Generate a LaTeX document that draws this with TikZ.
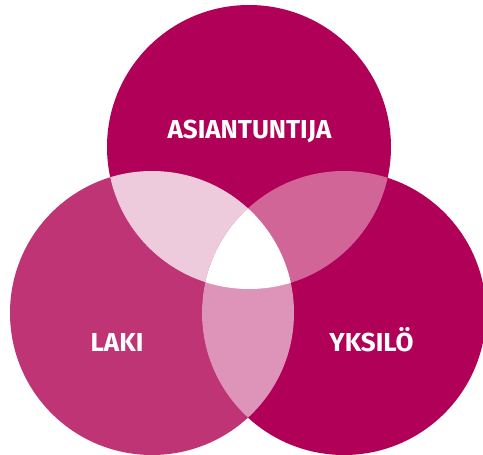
\documentclass[tikz,border=0pt]{standalone}
\usepackage{fontspec}
\setmainfont{Fira Sans}
\definecolor{cTop}{HTML}{B00057}
\definecolor{cLeft}{HTML}{BF3475}
\definecolor{cRight}{HTML}{B00057}
\definecolor{cLT}{HTML}{EECADD}
\definecolor{cTR}{HTML}{D16597}
\definecolor{cLR}{HTML}{DE94B9}
\tikzset{
  lbl/.style={text=white, font=\bfseries\fontsize{26}{26}\selectfont, inner sep=0pt, anchor=base}
}
\begin{document}
\begin{tikzpicture}[x=1pt,y=-1pt]
\useasboundingbox (0,0) rectangle (483,455);
\def\R{142}
\coordinate (T) at (249,147);
\coordinate (L) at (152,313);
\coordinate (Rc) at (344,313);
\fill[cLeft] (L) circle (\R);
\fill[cRight] (Rc) circle (\R);
\fill[cTop] (T) circle (\R);
\begin{scope}
  \clip (T) circle (\R);
  \fill[cLT] (L) circle (\R);
  \fill[cTR] (Rc) circle (\R);
\end{scope}
\begin{scope}
  \clip (L) circle (\R);
  \fill[cLR] (Rc) circle (\R);
  \clip (Rc) circle (\R);
  \fill[white] (T) circle (\R);
\end{scope}
\node[lbl] (asi) at (249.5,138) {ASIANTUNTIJA};
\node[lbl] (laki) at (117,351) {LAKI};
\node[lbl] (yks) at (371.5,351) {YKSILÖ};
\end{tikzpicture}
\end{document}
